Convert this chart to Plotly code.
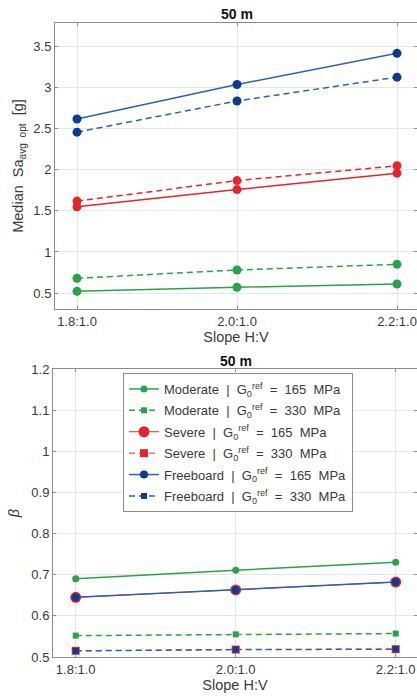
import plotly.graph_objects as go
from plotly.subplots import make_subplots

# Slope categories (H:V)
slopes = ["1.8:1.0", "2.0:1.0", "2.2:1.0"]
xpos = [0, 1, 2]

# Median Sa_avg,opt [g]
sa_mod_165 = [0.52, 0.57, 0.61]
sa_mod_330 = [0.68, 0.78, 0.85]
sa_sev_165 = [1.55, 1.76, 1.96]
sa_sev_330 = [1.62, 1.87, 2.05]
sa_fb_165 = [2.62, 3.04, 3.42]
sa_fb_330 = [2.46, 2.84, 3.13]

# Dispersion beta
b_mod_165 = [0.690, 0.711, 0.730]
b_mod_330 = [0.552, 0.555, 0.557]
b_sev_165 = [0.645, 0.663, 0.682]
b_sev_330 = [0.515, 0.518, 0.519]
b_fb_165 = [0.645, 0.663, 0.682]
b_fb_330 = [0.515, 0.518, 0.519]

GREEN = "#2ba24a"
RED = "#e4262c"
BLUE_LINE = "#2f62b3"
BLUE_MK = "#0d3c8e"
FONT = "Liberation Sans"
TXT = "#3a3a3a"
DASH = "6px,4px"

G = "G<sub>0</sub><sup>ref</sup>"

fig = make_subplots(rows=2, cols=1, vertical_spacing=0.0)

top_series = [
    (sa_fb_165, BLUE_LINE, BLUE_MK, "solid"),
    (sa_fb_330, BLUE_LINE, BLUE_MK, DASH),
    (sa_sev_330, RED, RED, DASH),
    (sa_sev_165, RED, RED, "solid"),
    (sa_mod_330, GREEN, GREEN, DASH),
    (sa_mod_165, GREEN, GREEN, "solid"),
]
for vals, lc, mc, dash in top_series:
    fig.add_trace(go.Scatter(
        x=xpos, y=vals, mode="lines+markers", showlegend=False,
        line=dict(color=lc, width=1.5, dash=dash),
        marker=dict(color=mc, size=9, symbol="circle"),
    ), row=1, col=1)

bottom_series = [
    (b_mod_165, f"Moderate  |  {G}  =  165  MPa", GREEN, GREEN, "solid", "circle", 7, 1.5),
    (b_mod_330, f"Moderate  |  {G}  =  330  MPa", GREEN, GREEN, DASH, "square", 6, 1.5),
    (b_sev_165, f"Severe  |  {G}  =  165  MPa", RED, RED, "solid", "circle", 11, 1.0),
    (b_sev_330, f"Severe  |  {G}  =  330  MPa", RED, RED, DASH, "square", 8, 1.0),
    (b_fb_165, f"Freeboard  |  {G}  =  165  MPa", BLUE_LINE, BLUE_MK, "solid", "circle", 8, 1.5),
    (b_fb_330, f"Freeboard  |  {G}  =  330  MPa", BLUE_LINE, BLUE_MK, DASH, "square", 6, 1.5),
]
for i, (vals, name, lc, mc, dash, sym, sz, lw) in enumerate(bottom_series):
    fig.add_trace(go.Scatter(
        x=xpos, y=vals, mode="lines+markers", name=name, legendgroup=f"g{i}",
        line=dict(color=lc, width=lw, dash=dash),
        marker=dict(color=mc, size=sz, symbol=sym),
    ), row=2, col=1)

W, H = 417, 696


def ydom(top_px, bot_px):
    return [1 - bot_px / H, 1 - top_px / H]


axis_common = dict(
    showline=True, linecolor="#8c8c8c", linewidth=1, mirror="ticks",
    ticks="inside", ticklen=3, tickcolor="#8c8c8c",
    showgrid=True, gridcolor="#e6e6e6", gridwidth=1, zeroline=False,
    automargin=False,
    tickfont=dict(family=FONT, size=13, color=TXT),
)

fig.update_xaxes(**axis_common)
fig.update_yaxes(**axis_common)

title_font = dict(family=FONT, size=14.5, color=TXT)

fig.update_layout(
    xaxis=dict(domain=[55 / W, 1.0], range=[-0.1375, 2.125],
               tickvals=xpos, ticktext=slopes,
               title=dict(text="Slope H:V", standoff=4, font=title_font)),
    xaxis2=dict(domain=[53 / W, 1.0], range=[-0.142, 2.133],
                tickvals=xpos, ticktext=slopes,
                title=dict(text="Slope H:V", standoff=4, font=title_font)),
    yaxis=dict(domain=ydom(23, 309), range=[0.305, 3.79],
               tickvals=[0.5, 1, 1.5, 2, 2.5, 3, 3.5],
               ticktext=["0.5", "1", "1.5", "2", "2.5", "3", "3.5"],
               title=dict(text="Median  Sa<sub>avg  opt</sub>  [g]", standoff=6,
                          font=title_font)),
    yaxis2=dict(domain=ydom(369, 657), range=[0.5, 1.2],
                tickvals=[0.5, 0.6, 0.7, 0.8, 0.9, 1.0, 1.1, 1.2],
                ticktext=["0.5", "0.6", "0.7", "0.8", "0.9", "1", "1.1", "1.2"],
                title=dict(text="<i>β</i>", standoff=8, font=title_font)),
    annotations=[
        dict(text="<b>50 m</b>", x=237 / W, y=1 - 14 / H, xref="paper", yref="paper",
             xanchor="center", yanchor="middle", showarrow=False,
             font=dict(family=FONT, size=14, color="#111111")),
        dict(text="<b>50 m</b>", x=236 / W, y=1 - 361 / H, xref="paper", yref="paper",
             xanchor="center", yanchor="middle", showarrow=False,
             font=dict(family=FONT, size=14, color="#111111")),
    ],
    legend=dict(x=123 / W, y=1 - 373 / H, xanchor="left", yanchor="top",
                bgcolor="white", bordercolor="#8c8c8c", borderwidth=1,
                font=dict(family=FONT, size=13, color=TXT),
                tracegroupgap=1.5, itemwidth=30),
    width=W, height=H,
    margin=dict(l=0, r=0, t=0, b=0),
    paper_bgcolor="white", plot_bgcolor="white",
)

fig.write_html("out.html")
